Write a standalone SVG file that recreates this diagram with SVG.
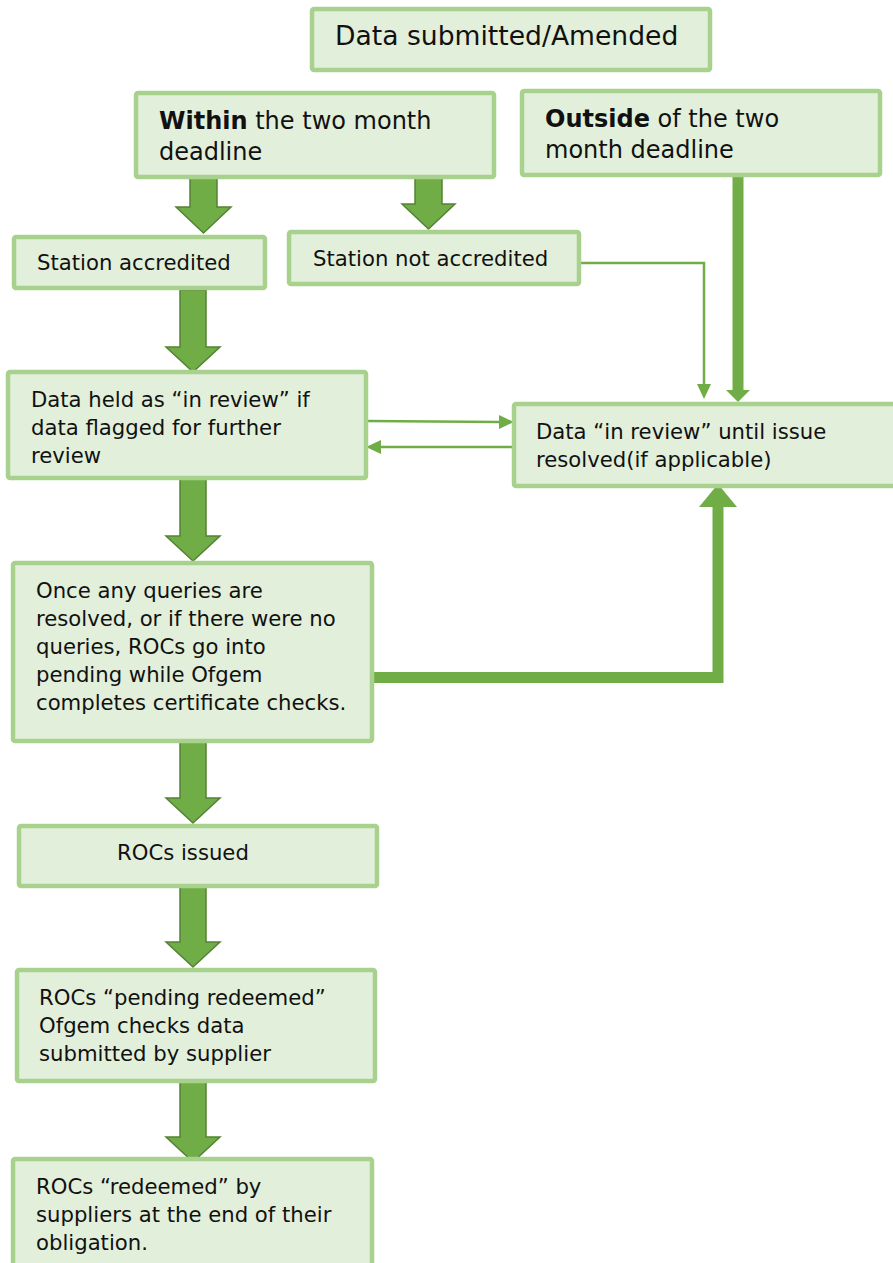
<svg xmlns="http://www.w3.org/2000/svg" width="893" height="1263" viewBox="0 0 893 1263">
  <defs>
    <style>
      .box { fill: #e2efda; stroke: #a9d18e; stroke-width: 4.5; }
      .txt { font-family: "DejaVu Sans", Verdana, sans-serif; font-size: 21.2px; fill: #111111; }
      .big { font-size: 24px; }
      .title { font-size: 26.6px; }
      .b { font-weight: bold; }
      .block { fill: #70ad47; stroke: #548235; stroke-width: 1.5; stroke-linejoin: miter; }
      .thin { fill: none; stroke: #70ad47; stroke-width: 2.5; }
      .thick { fill: none; stroke: #70ad47; stroke-width: 11; stroke-linejoin: miter; }
      .head { fill: #70ad47; }
    </style>
  </defs>

  <rect width="893" height="1263" fill="#ffffff"/>

  <!-- connectors -->
  <g id="connectors">
    <!-- block arrows -->
    <path class="block" d="M190,178 L217,178 L217,207 L231,207 L203.5,233 L176,207 L190,207 Z"/>
    <path class="block" d="M415,173 L442,173 L442,204 L455,204 L428.5,229 L402,204 L415,204 Z"/>
    <path class="block" d="M180,290 L206,290 L206,347 L220,347 L193,372 L166,347 L180,347 Z"/>
    <path class="block" d="M180,479 L206,479 L206,536 L220,536 L193,561 L166,536 L180,536 Z"/>
    <path class="block" d="M180,742 L206,742 L206,798 L220,798 L193,823 L166,798 L180,798 Z"/>
    <path class="block" d="M180,887 L206,887 L206,942 L220,942 L193,967 L166,942 L180,942 Z"/>
    <path class="block" d="M180,1082 L206,1082 L206,1137 L220,1137 L193,1162 L166,1137 L180,1137 Z"/>

    <!-- not accredited to in review -->
    <polyline class="thin" points="580,263 704,263 704,385"/>
    <path class="head" d="M697,384 L711,384 L704,399 Z"/>

    <!-- outside deadline to in review -->
    <line class="thick" x1="738" y1="172" x2="738" y2="392"/>
    <path class="head" d="M726,390 L750,390 L738,402 Z"/>

    <!-- held in review <-> in review -->
    <line class="thin" x1="367" y1="421" x2="500" y2="422"/>
    <path class="head" d="M499,415 L514,422 L499,429 Z"/>
    <line class="thin" x1="512" y1="447" x2="381" y2="447"/>
    <path class="head" d="M381,440 L366,447 L381,454 Z"/>

    <!-- queries box up into in review -->
    <polyline class="thick" points="367,677.5 718,677.5 718,505"/>
    <path class="head" d="M699,507 L737,507 L718,484 Z"/>
  </g>

  <!-- nodes -->
  <g id="node-submitted">
    <rect class="box" x="312" y="9" width="398" height="61" rx="2"/>
    <text class="txt title" x="335" y="45">Data submitted/Amended</text>
  </g>

  <g id="node-within">
    <rect class="box" x="136" y="93" width="358" height="84" rx="2"/>
    <text class="txt big" x="159" y="129"><tspan class="b">Within</tspan> the two month</text>
    <text class="txt big" x="159" y="160">deadline</text>
  </g>

  <g id="node-outside">
    <rect class="box" x="522" y="91" width="358" height="84" rx="2"/>
    <text class="txt big" x="545" y="127"><tspan class="b">Outside</tspan> of the two</text>
    <text class="txt big" x="545" y="158">month deadline</text>
  </g>

  <g id="node-accredited">
    <rect class="box" x="14" y="237" width="251" height="51" rx="2"/>
    <text class="txt" x="37" y="270">Station accredited</text>
  </g>

  <g id="node-not-accredited">
    <rect class="box" x="289" y="232" width="290" height="52" rx="2"/>
    <text class="txt" x="313" y="266">Station not accredited</text>
  </g>

  <g id="node-held">
    <rect class="box" x="8" y="372" width="358" height="106" rx="2"/>
    <text class="txt" x="31" y="407">Data held as “in review” if</text>
    <text class="txt" x="31" y="435">data flagged for further</text>
    <text class="txt" x="31" y="463">review</text>
  </g>

  <g id="node-in-review">
    <rect class="box" x="514" y="404" width="390" height="82" rx="2"/>
    <text class="txt" x="536" y="439">Data “in review” until issue</text>
    <text class="txt" x="536" y="467">resolved(if applicable)</text>
  </g>

  <g id="node-queries">
    <rect class="box" x="13" y="563" width="359" height="178" rx="2"/>
    <text class="txt" x="36" y="598">Once any queries are</text>
    <text class="txt" x="36" y="626">resolved, or if there were no</text>
    <text class="txt" x="36" y="654">queries, ROCs go into</text>
    <text class="txt" x="36" y="682">pending while Ofgem</text>
    <text class="txt" x="36" y="710">completes certificate checks.</text>
  </g>

  <g id="node-issued">
    <rect class="box" x="19" y="826" width="358" height="60" rx="2"/>
    <text class="txt" x="117" y="860">ROCs issued</text>
  </g>

  <g id="node-pending-redeemed">
    <rect class="box" x="17" y="970" width="358" height="111" rx="2"/>
    <text class="txt" x="39" y="1005">ROCs “pending redeemed”</text>
    <text class="txt" x="39" y="1033">Ofgem checks data</text>
    <text class="txt" x="39" y="1061">submitted by supplier</text>
  </g>

  <g id="node-redeemed">
    <rect class="box" x="13" y="1159" width="359" height="120" rx="2"/>
    <text class="txt" x="36" y="1194">ROCs “redeemed” by</text>
    <text class="txt" x="36" y="1222">suppliers at the end of their</text>
    <text class="txt" x="36" y="1250">obligation.</text>
  </g>
</svg>
